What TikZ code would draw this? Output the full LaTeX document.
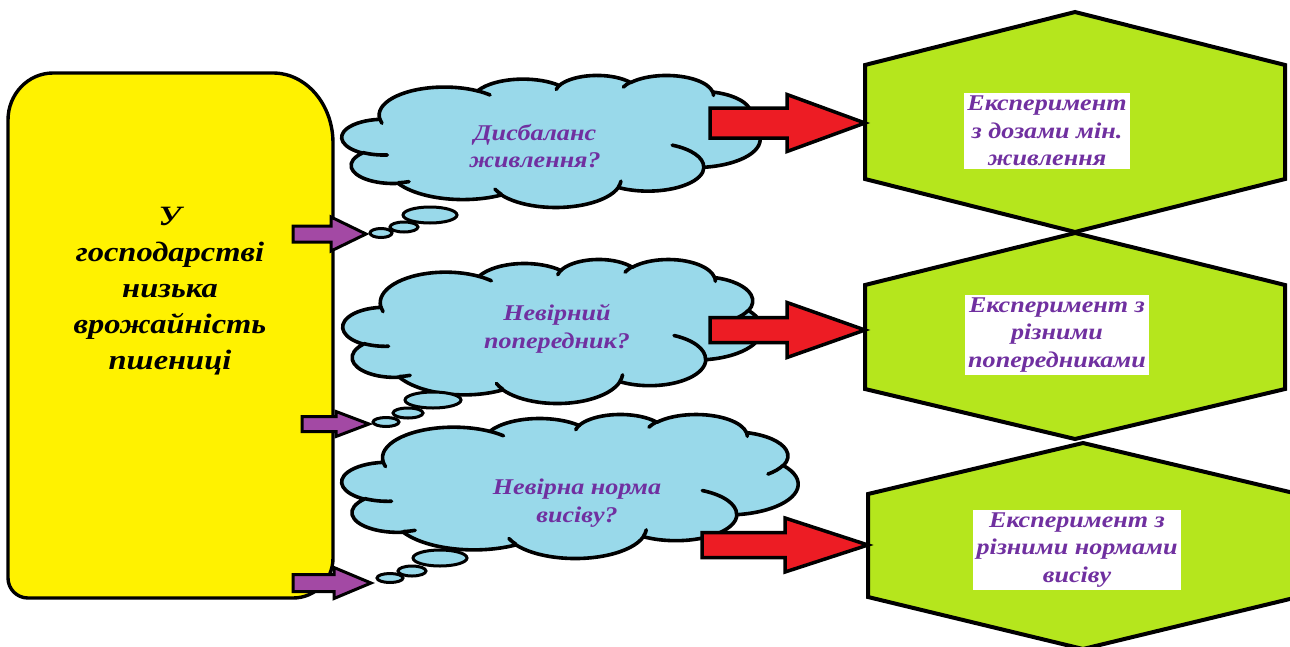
\documentclass[tikz,border=0pt]{standalone}
\usepackage{fontspec}
\setmainfont[FakeStretch=1.16]{Liberation Serif}
\usetikzlibrary{calc}
\definecolor{boxyellow}{HTML}{FFF200}
\definecolor{cloudblue}{HTML}{99D9EA}
\definecolor{hexlime}{HTML}{B5E61D}
\definecolor{arrowred}{HTML}{ED1C24}
\definecolor{arrowpurple}{HTML}{A349A4}
\definecolor{textpurple}{HTML}{7030A0}
% convert a DrawingML (visual) arc angle pair into TikZ parametric angles
\newcommand\vconv[5]{%
  \pgfmathsetmacro\tmpS{atan2((#2)*sin(#4),(#3)*cos(#4))}%
  \pgfmathsetmacro\tmpE{atan2((#2)*sin((#4)+(#5)),(#3)*cos((#4)+(#5)))}%
  \pgfmathsetmacro\tmpD{\tmpE-\tmpS-360*round((\tmpE-\tmpS-(#5))/360)}%
  \expandafter\xdef\csname vs#1\endcsname{\tmpS}%
  \expandafter\xdef\csname vd#1\endcsname{\tmpD}}
\newcommand\cloudoutline{(39.00,143.70)
  arc[start angle=\vsA, delta angle=\vdA, x radius=67.53, y radius=91.90]
  arc[start angle=\vsB, delta angle=\vdB, x radius=53.33, y radius=72.67]
  arc[start angle=\vsC, delta angle=\vdC, x radius=43.65, y radius=59.45]
  arc[start angle=\vsD, delta angle=\vdD, x radius=48.57, y radius=65.95]
  arc[start angle=\vsE, delta angle=\vdE, x radius=53.33, y radius=72.73]
  arc[start angle=\vsF, delta angle=\vdF, x radius=67.75, y radius=92.20]
  arc[start angle=\vsG, delta angle=\vdG, x radius=57.85, y radius=78.67]
  arc[start angle=\vsH, delta angle=\vdH, x radius=67.52, y radius=92.15]
  arc[start angle=\vsI, delta angle=\vdI, x radius=77.20, y radius=105.43]
  arc[start angle=\vsJ, delta angle=\vdJ, x radius=43.60, y radius=59.18]
  arc[start angle=\vsK, delta angle=\vdK, x radius=43.45, y radius=59.45]
  -- cycle}
\newcommand\cloudcreases{
  (46.93,261.77) arc[start angle=\vsa, delta angle=\vda, x radius=43.45, y radius=59.45]
  (69.28,348.99) arc[start angle=\vsb, delta angle=\vdb, x radius=43.60, y radius=59.18]
  (164.78,390.90) arc[start angle=\vsc, delta angle=\vdc, x radius=67.52, y radius=92.15]
  (288.27,347.51) arc[start angle=\vsd, delta angle=\vdd, x radius=67.52, y radius=92.15]
  (341.29,229.54) arc[start angle=\vse, delta angle=\vde, x radius=57.85, y radius=78.67]
  (417.98,153.54) arc[start angle=\vsf, delta angle=\vdf, x radius=53.33, y radius=72.73]
  (383.24,54.26) arc[start angle=\vsg, delta angle=\vdg, x radius=48.57, y radius=65.95]
  (290.78,39.52) arc[start angle=\vsh, delta angle=\vdh, x radius=48.57, y radius=65.95]
  (221.41,47.20) arc[start angle=\vsi, delta angle=\vdi, x radius=43.65, y radius=59.45]
  (140.00,51.92) arc[start angle=\vsj, delta angle=\vdj, x radius=67.53, y radius=91.90]
  (41.27,157.89) arc[start angle=\vsk, delta angle=\vdk, x radius=67.53, y radius=91.90]}
% block arrow: style, from, to, half body, half head, head length
\newcommand\blockarrow[6]{%
  \draw[#1] let \p1=(#2), \p2=(#3) in
    (\x1,\y1+#4pt) -- (\x2-#6pt,\y1+#4pt) -- (\x2-#6pt,\y1+#5pt) -- (\x2,\y2)
    -- (\x2-#6pt,\y1-#5pt) -- (\x2-#6pt,\y1-#4pt) -- (\x1,\y1-#4pt) -- cycle;}
\tikzset{
  outline/.style={draw=black, line width=3.6pt, line join=round},
  cloudfill/.style={outline, fill=cloudblue},
  crease/.style={draw=black, line width=3.6pt, line cap=round},
  bubble/.style={draw=black, line width=3pt, fill=cloudblue},
  hexfill/.style={draw=black, line width=4pt, fill=hexlime, line join=miter},
  redarrow/.style={draw=black, line width=3.5pt, fill=arrowred, line join=miter},
  purplearrow/.style={draw=black, line width=3pt, fill=arrowpurple, line join=miter},
  maintext/.style={align=center, inner sep=0pt, text=black,
    font=\bfseries\itshape\fontsize{28}{36}\selectfont},
  cloudtext/.style={align=center, inner sep=0pt, text=textpurple,
    font=\bfseries\itshape\fontsize{22.5}{27.5}\selectfont},
  hextext/.style={align=center, inner sep=3pt, fill=white, text=textpurple,
    font=\bfseries\itshape\fontsize{22.5}{27.5}\selectfont}
}
\begin{document}
\begin{tikzpicture}[x=1pt, y=-1pt]
\vconv{A}{67.53}{91.90}{-190.4875}{123.7805}
\vconv{B}{53.33}{72.67}{-144.1024}{89.9452}
\vconv{C}{43.65}{59.45}{-145.8079}{99.7230}
\vconv{D}{48.57}{65.95}{-130.9861}{117.2417}
\vconv{E}{53.33}{72.73}{-78.7089}{109.0269}
\vconv{F}{67.75}{92.20}{-46.2673}{130.2690}
\vconv{G}{57.85}{78.67}{0.6250}{114.0333}
\vconv{H}{67.52}{92.15}{22.4516}{115.1726}
\vconv{I}{77.20}{105.43}{66.2426}{75.7110}
\vconv{J}{43.60}{59.18}{-274.9421}{146.7356}
\vconv{K}{43.45}{59.45}{-246.8285}{152.5189}
\vconv{a}{43.45}{59.45}{86.7420}{26.4295}
\vconv{b}{43.60}{59.18}{73.6105}{11.4475}
\vconv{c}{67.52}{92.15}{137.6242}{14.0811}
\vconv{d}{67.52}{92.15}{6.4533}{15.9984}
\vconv{e}{57.85}{78.67}{-70.2924}{70.9174}
\vconv{f}{53.33}{72.73}{30.3180}{27.7515}
\vconv{g}{48.57}{65.95}{-13.7443}{14.8589}
\vconv{h}{48.57}{65.95}{-149.1815}{18.1954}
\vconv{i}{43.65}{59.45}{-163.4943}{17.6864}
\vconv{j}{67.53}{91.90}{-66.7070}{12.3194}
\vconv{k}{67.53}{91.90}{157.6544}{11.8582}
\fill[white] (0,0) rectangle (1290,646);
\useasboundingbox (0,0) rectangle (1290,646);
\clip (0,0) rectangle (1290,646);

% main yellow box
\draw[outline, fill=boxyellow, line width=3.4pt]
  (53,73) -- (273,73) arc[start angle=-90, end angle=0, x radius=60, y radius=70]
  -- (333,558) arc[start angle=0, end angle=90, radius=40]
  -- (28,598) arc[start angle=90, end angle=180, radius=20]
  -- (8,120) arc[start angle=180, end angle=270, x radius=45, y radius=47] -- cycle;
\node[maintext] (m) at (170,291) {У\\господарстві\\низька\\врожайність\\пшениці};

% clouds
\begin{scope}[shift={(342pt,-75pt)}, x=0.9676pt, y=-0.30556pt]
  \path[cloudfill] \cloudoutline;
  \draw[crease] \cloudcreases;
\end{scope}
\begin{scope}[shift={(343pt,-259pt)}, x=0.9699pt, y=-0.3333pt]
  \path[cloudfill] \cloudoutline;
  \draw[crease] \cloudcreases;
\end{scope}
\begin{scope}[shift={(342pt,-414pt)}, x=1.0556pt, y=-0.3333pt]
  \path[cloudfill] \cloudoutline;
  \draw[crease] \cloudcreases;
\end{scope}
% thought bubbles
\draw[bubble] (430,215) ellipse[x radius=27, y radius=8];
\draw[bubble] (404,227) ellipse[x radius=14, y radius=5];
\draw[bubble] (381,233) ellipse[x radius=11, y radius=4.5];
\draw[bubble] (433,400) ellipse[x radius=28, y radius=8];
\draw[bubble] (408,413) ellipse[x radius=15, y radius=5];
\draw[bubble] (386,422) ellipse[x radius=13, y radius=4.5];
\draw[bubble] (440,558) ellipse[x radius=27, y radius=8];
\draw[bubble] (412,571) ellipse[x radius=14, y radius=5];
\draw[bubble] (390,578) ellipse[x radius=13, y radius=4.5];

\node[cloudtext] (c1) at (535,146) {Дисбаланс\\живлення?};
\node[cloudtext] (c2) at (557,329) {Невірний\\попередник?};
\node[cloudtext] (c3) at (577,503) {Невірна норма\\висіву?};

% purple arrows from the main box to the thought bubbles
\coordinate (p1s) at (293,234); \coordinate (p1e) at (366,234);
\coordinate (p2s) at (302,424); \coordinate (p2e) at (369,424);
\coordinate (p3s) at (293,583); \coordinate (p3e) at (371,583);
\blockarrow{purplearrow}{p1s}{p1e}{8}{17}{35}
\blockarrow{purplearrow}{p2s}{p2e}{7.5}{12.5}{33}
\blockarrow{purplearrow}{p3s}{p3e}{8.5}{15.5}{37}

% hexagons
\draw[hexfill] (1075,12) -- (1285,65) -- (1285,179) -- (1075,232) -- (865,179) -- (865,65) -- cycle;
\draw[hexfill] (1075,233) -- (1285,285) -- (1285,389) -- (1075,439) -- (865,389) -- (865,285) -- cycle;
\draw[hexfill] (1083,443) -- (1298,494) -- (1298,597) -- (1083,649) -- (868,597) -- (868,494) -- cycle;
\coordinate (e1w) at (865,123);
\coordinate (e2w) at (865,330);
\coordinate (e3w) at (868,545);
\node[hextext] (e1) at (1047,131) {Експеримент\\з дозами мін.\\живлення};
\node[hextext] (e2) at (1057,335) {Експеримент з\\різними\\попередниками};
\node[hextext] (e3) at (1077,550) {Експеримент з\\різними нормами\\висіву};

% red arrows from the clouds to the experiments
\coordinate (r1s) at (710,123);
\coordinate (r2s) at (710,330);
\coordinate (r3s) at (702,545);
\blockarrow{redarrow}{r1s}{e1w}{15}{28.5}{78}
\blockarrow{redarrow}{r2s}{e2w}{12.5}{27.5}{78}
\blockarrow{redarrow}{r3s}{e3w}{12.5}{27}{83}
\end{tikzpicture}
\end{document}
